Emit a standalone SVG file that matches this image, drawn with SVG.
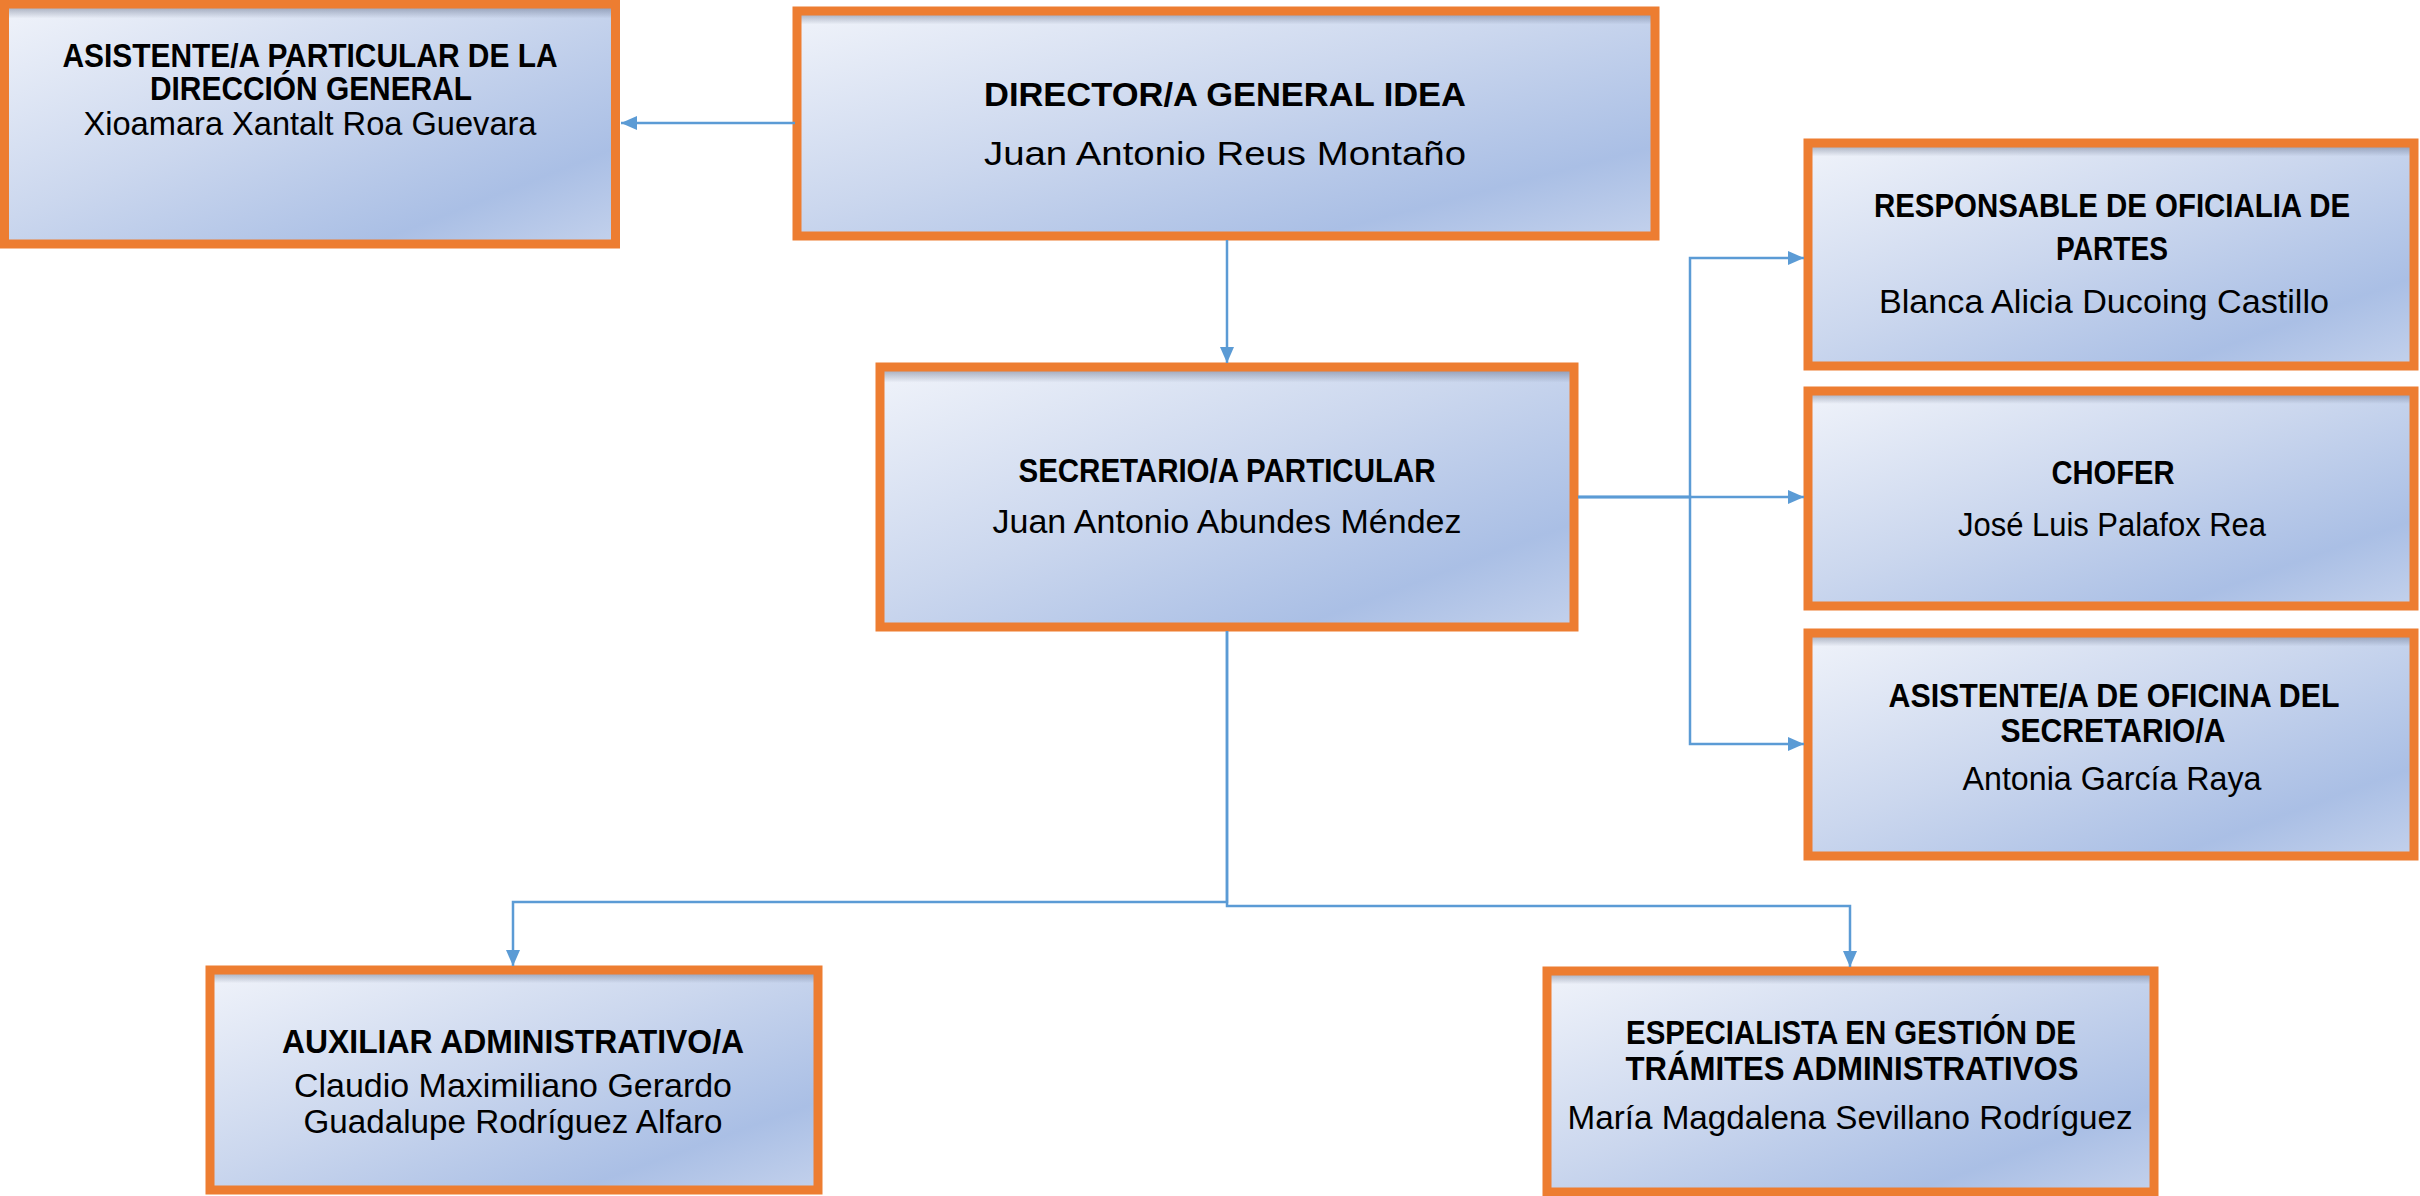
<svg xmlns="http://www.w3.org/2000/svg" width="2420" height="1196" viewBox="0 0 2420 1196">
<style>
.f{fill:url(#bg);}
.s{fill:url(#shade);stroke:#ED7D31;stroke-width:9;}
.t{font-family:"Liberation Sans",Arial,sans-serif;font-weight:bold;font-size:33px;fill:#000;text-anchor:middle;}
.n{font-family:"Liberation Sans",Arial,sans-serif;font-size:33px;fill:#000;text-anchor:middle;}
.c{fill:none;stroke:#5B9BD5;stroke-width:2.5;marker-end:url(#arr);}
</style>
<defs>
<linearGradient id="bg" x1="0" y1="0" x2="1" y2="1">
<stop offset="0" stop-color="#F0F3FA"/>
<stop offset="0.45" stop-color="#CBD7EE"/>
<stop offset="0.8" stop-color="#AABFE5"/>
<stop offset="1" stop-color="#C3D1EC"/>
</linearGradient>
<linearGradient id="shade" x1="0" y1="0" x2="0" y2="1">
<stop offset="0" stop-color="#4A5570" stop-opacity="0.55"/>
<stop offset="0.06" stop-color="#4A5570" stop-opacity="0"/>
<stop offset="1" stop-color="#4A5570" stop-opacity="0"/>
</linearGradient>
<marker id="arr" viewBox="0 0 16 14" refX="16" refY="7" markerWidth="16" markerHeight="14" orient="auto" markerUnits="userSpaceOnUse">
<path d="M0,0 L16,7 L0,14 z" fill="#5B9BD5"/>
</marker>
</defs>
<rect width="2420" height="1196" fill="#fff"/>

<g id="asistente-direccion">
<rect class="f" x="4.5" y="4" width="611" height="240"/>
<rect class="s" x="4.5" y="4" width="611" height="240"/>
<text class="t" x="310" y="67" font-size="27" textLength="495" lengthAdjust="spacingAndGlyphs">ASISTENTE/A PARTICULAR DE LA</text>
<text class="t" x="311" y="100" font-size="27" textLength="322" lengthAdjust="spacingAndGlyphs">DIRECCIÓN GENERAL</text>
<text class="n" x="310" y="135" font-size="31" textLength="453" lengthAdjust="spacingAndGlyphs">Xioamara Xantalt Roa Guevara</text>
</g>

<g id="director">
<rect class="f" x="797" y="11" width="858" height="225"/>
<rect class="s" x="797" y="11" width="858" height="225"/>
<text class="t" x="1225" y="106" font-size="37" textLength="482" lengthAdjust="spacingAndGlyphs">DIRECTOR/A GENERAL IDEA</text>
<text class="n" x="1225" y="165" font-size="41" textLength="482" lengthAdjust="spacingAndGlyphs">Juan Antonio Reus Montaño</text>
</g>

<g id="secretario">
<rect class="f" x="880" y="367" width="694" height="260"/>
<rect class="s" x="880" y="367" width="694" height="260"/>
<text class="t" x="1227" y="482" textLength="417" lengthAdjust="spacingAndGlyphs">SECRETARIO/A PARTICULAR</text>
<text class="n" x="1227" y="533" font-size="35" textLength="469" lengthAdjust="spacingAndGlyphs">Juan Antonio Abundes Méndez</text>
</g>

<g id="oficialia-partes">
<rect class="f" x="1808" y="143" width="606" height="223"/>
<rect class="s" x="1808" y="143" width="606" height="223"/>
<text class="t" x="2112" y="217" textLength="476" lengthAdjust="spacingAndGlyphs">RESPONSABLE DE OFICIALIA DE</text>
<text class="t" x="2112" y="260" textLength="112" lengthAdjust="spacingAndGlyphs">PARTES</text>
<text class="n" x="2104" y="313" textLength="450" lengthAdjust="spacingAndGlyphs">Blanca Alicia Ducoing Castillo</text>
</g>

<g id="chofer">
<rect class="f" x="1808" y="391" width="606" height="215"/>
<rect class="s" x="1808" y="391" width="606" height="215"/>
<text class="t" x="2113" y="484" textLength="123" lengthAdjust="spacingAndGlyphs">CHOFER</text>
<text class="n" x="2112" y="536" textLength="308" lengthAdjust="spacingAndGlyphs">José Luis Palafox Rea</text>
</g>

<g id="asistente-oficina">
<rect class="f" x="1808" y="633" width="606" height="223"/>
<rect class="s" x="1808" y="633" width="606" height="223"/>
<text class="t" x="2114" y="707" font-size="31" textLength="451" lengthAdjust="spacingAndGlyphs">ASISTENTE/A DE OFICINA DEL</text>
<text class="t" x="2113" y="742" font-size="31" textLength="225" lengthAdjust="spacingAndGlyphs">SECRETARIO/A</text>
<text class="n" x="2112" y="790" textLength="299" lengthAdjust="spacingAndGlyphs">Antonia García Raya</text>
</g>

<g id="auxiliar">
<rect class="f" x="210" y="970" width="608" height="220"/>
<rect class="s" x="210" y="970" width="608" height="220"/>
<text class="t" x="513" y="1053" textLength="462" lengthAdjust="spacingAndGlyphs">AUXILIAR ADMINISTRATIVO/A</text>
<text class="n" x="513" y="1097" font-size="31" textLength="438" lengthAdjust="spacingAndGlyphs">Claudio Maximiliano Gerardo</text>
<text class="n" x="513" y="1133" font-size="31" textLength="419" lengthAdjust="spacingAndGlyphs">Guadalupe Rodríguez Alfaro</text>
</g>

<g id="especialista">
<rect class="f" x="1547" y="971" width="607" height="221"/>
<rect class="s" x="1547" y="971" width="607" height="221"/>
<text class="t" x="1851" y="1044" font-size="31" textLength="450" lengthAdjust="spacingAndGlyphs">ESPECIALISTA EN GESTIÓN DE</text>
<text class="t" x="1852" y="1080" font-size="31" textLength="453" lengthAdjust="spacingAndGlyphs">TRÁMITES ADMINISTRATIVOS</text>
<text class="n" x="1850" y="1129" textLength="565" lengthAdjust="spacingAndGlyphs">María Magdalena Sevillano Rodríguez</text>
</g>

<g id="connectors">
<path class="c" d="M795,123 H621"/>
<path class="c" d="M1227,240 V363"/>
<path class="c" d="M1578,497 H1690 V258 H1804"/>
<path class="c" d="M1578,497 H1804"/>
<path class="c" d="M1578,497 H1690 V744 H1804"/>
<path class="c" d="M1227,631 V902 H513 V966"/>
<path class="c" d="M1227,631 V906 H1850 V967"/>
</g>
</svg>
